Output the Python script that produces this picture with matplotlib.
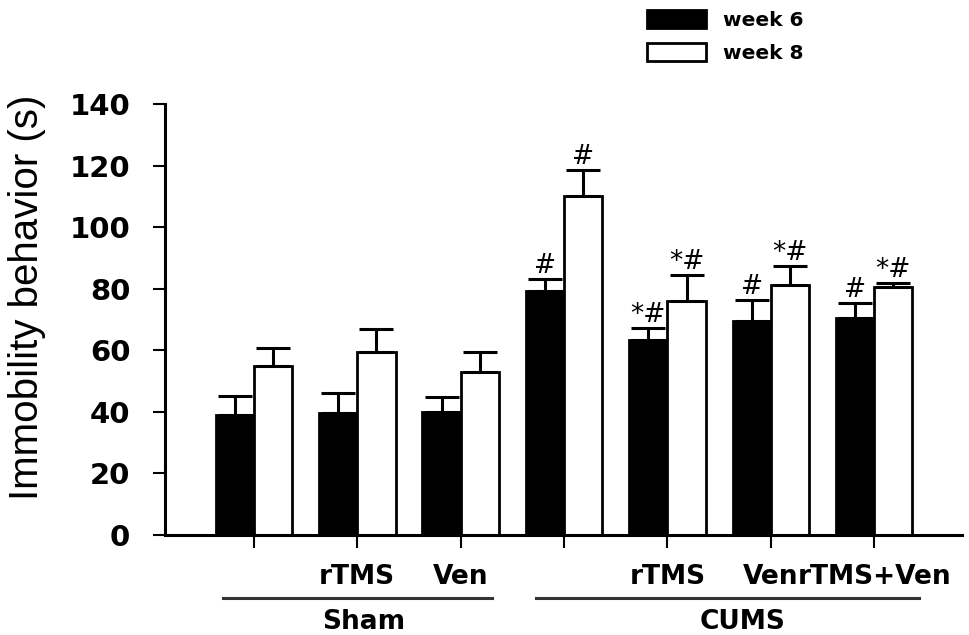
import numpy as np
import matplotlib
matplotlib.use('Agg')
import matplotlib.pyplot as plt
import matplotlib.transforms as mtransforms

# Datos
groups = ['', 'rTMS', 'Ven', '', 'rTMS', 'Ven', 'rTMS+Ven']
week6 = [39, 39.5, 40, 79.4, 63.2, 69.4, 70.6]
week6_err = [6, 6.5, 4.7, 3.6, 4.2, 6.8, 4.7]
week8 = [55, 59.3, 53, 110, 76.1, 81.3, 80.4]
week8_err = [5.6, 7.5, 6.5, 8.7, 8.2, 6.2, 1.6]
marks6 = ['', '', '', '#', '*#', '#', '#']
marks8 = ['', '', '', '#', '*#', '*#', '*#']
group_names = ['Sham', 'CUMS']
yticks = [0, 20, 40, 60, 80, 100, 120, 140]

W, H = 969, 635
fig = plt.figure(figsize=(W / 100, H / 100), dpi=100)
ax = fig.add_axes([165 / W, 1 - 535 / H, (962 - 165) / W, (535 - 104) / H])

x = np.arange(len(groups))
bw = 0.37
err_kw = dict(elinewidth=2.2, capthick=2.2, capsize=12, ecolor='black')

b6 = ax.bar(x - bw / 2, week6, bw, color='black', edgecolor='black', linewidth=2,
            yerr=[np.zeros(len(x)), week6_err], error_kw=err_kw, label='week 6', zorder=2)
b8 = ax.bar(x + bw / 2, week8, bw, color='white', edgecolor='black', linewidth=2,
            yerr=[np.zeros(len(x)), week8_err], error_kw=err_kw, label='week 8', zorder=2)

# marcas de significancia
for xi, v, e, m in zip(x - bw / 2, week6, week6_err, marks6):
    if m:
        ax.annotate(m, (xi, v + e), xytext=(0, 0), textcoords='offset points',
                    ha='center', va='bottom', fontsize=19, family='DejaVu Sans')
for xi, v, e, m in zip(x + bw / 2, week8, week8_err, marks8):
    if m:
        ax.annotate(m, (xi, v + e), xytext=(0, 0), textcoords='offset points',
                    ha='center', va='bottom', fontsize=19, family='DejaVu Sans')

ax.set_xlim(-0.86, 6.85)
ax.set_ylim(0, 140)
ax.set_yticks(yticks)
ax.set_yticklabels([str(t) for t in yticks], fontsize=21, fontweight='bold',
                   family='DejaVu Sans')
ax.set_xticks(x)
ax.set_xticklabels(groups, fontsize=19, fontweight='bold', family='DejaVu Sans')
ax.tick_params(axis='y', length=9, width=1.5, pad=16)
ax.tick_params(axis='x', length=9, width=1.5, pad=12)
for s in ['top', 'right']:
    ax.spines[s].set_visible(False)
for s in ['left', 'bottom']:
    ax.spines[s].set_linewidth(2.2)

fig.text(27 / W, 1 - 297 / H, 'Immobility behavior (s)', rotation=90, ha='center',
         va='center', fontsize=29, family='Liberation Sans')

# líneas de grupo
trans = mtransforms.blended_transform_factory(ax.transData, fig.transFigure)
spans = [(-0.30, 2.30), (2.73, 6.43)]
label_x = [1.06, 4.73]
for (a, b), name, lx in zip(spans, group_names, label_x):
    ax.plot([a, b], [1 - 598 / H] * 2, color='#333333', lw=2.2, transform=trans,
            clip_on=False)
    ax.text(lx, 1 - 622 / H, name, transform=trans, ha='center', va='center',
            fontsize=19, fontweight='bold', family='DejaVu Sans')

leg = fig.legend(handles=[b6, b8], loc='upper left', bbox_to_anchor=(647 / W, 1 - 10 / H),
                 frameon=False, borderpad=0, borderaxespad=0, handlelength=2.95,
                 handleheight=1.0, handletextpad=0.8, labelspacing=0.65,
                 prop={'family': 'DejaVu Sans', 'weight': 'bold', 'size': 14.5})

fig.savefig('out.png', dpi=100)
